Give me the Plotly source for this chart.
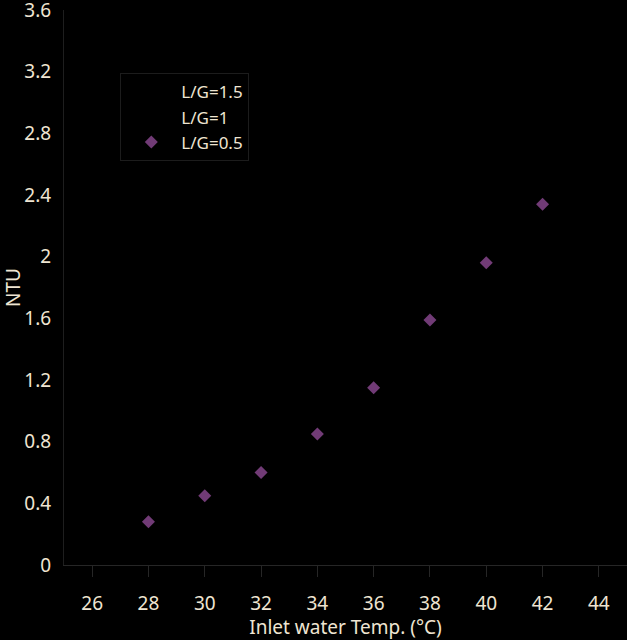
import plotly.graph_objects as go

# inlet water temperature (deg C) and NTU
temps = [28, 30, 32, 34, 36, 38, 40, 42]
ntu_lg05 = [0.28, 0.45, 0.60, 0.85, 1.15, 1.59, 1.96, 2.34]
# the other two series are black on black in the picture: no values can be read
ntu_hidden = [None] * len(temps)

series_names = ["L/G=1.5", "L/G=1", "L/G=0.5"]

x_ticks = [26, 28, 30, 32, 34, 36, 38, 40, 42, 44]
y_ticks = [0, 0.4, 0.8, 1.2, 1.6, 2, 2.4, 2.8, 3.2, 3.6]
y_labels = ["0", "0.4", "0.8", "1.2", "1.6", "2", "2.4", "2.8", "3.2", "3.6"]

text_col = "#efe5d2"
font_name = "Noto Sans"

fig = go.Figure()
fig.add_trace(go.Scatter(x=temps, y=ntu_hidden, mode="markers", name=series_names[0],
                         legendgroup="a",
                         marker=dict(symbol="diamond", size=10, color="#000000")))
fig.add_trace(go.Scatter(x=temps, y=ntu_hidden, mode="markers", name=series_names[1],
                         legendgroup="b",
                         marker=dict(symbol="diamond", size=10, color="#000000")))
fig.add_trace(go.Scatter(x=temps, y=ntu_lg05, mode="markers", name=series_names[2],
                         legendgroup="c",
                         marker=dict(symbol="diamond", size=10, color="#713b76")))

fig.update_layout(
    width=627, height=640,
    paper_bgcolor="#000000",
    plot_bgcolor="#000000",
    margin=dict(l=64, r=0, t=10, b=75),
    font=dict(family=font_name, size=19, color=text_col),
    showlegend=True,
    legend=dict(
        x=0.1, y=0.886, xanchor="left", yanchor="top",
        bgcolor="#000000", bordercolor="#1c1c1c", borderwidth=1,
        font=dict(size=17, color=text_col),
        traceorder="normal",
        tracegroupgap=1,
        itemwidth=50,
    ),
)

fig.update_xaxes(
    range=[25, 45],
    tickvals=x_ticks,
    automargin=False,
    showgrid=False, zeroline=False,
    showline=True, linecolor="#262626", linewidth=1,
    ticks="outside", ticklen=11, tickcolor="#262626",
    ticklabelstandoff=10,
    title=dict(text="Inlet water Temp. (°C)", standoff=0,
               font=dict(size=19, color=text_col)),
)
fig.update_yaxes(
    range=[0, 3.6],
    tickvals=y_ticks, ticktext=y_labels,
    automargin=False,
    showgrid=False, zeroline=False,
    showline=True, linecolor="#1e1e1e", linewidth=1,
    ticks="", ticklabelstandoff=8,
    ticklabeloverflow="allow",
    title=dict(text="NTU", standoff=12,
               font=dict(size=19, color=text_col)),
)

fig.write_html("out.html", config={"displayModeBar": False},
               post_script="document.body.style.margin='0px';")
